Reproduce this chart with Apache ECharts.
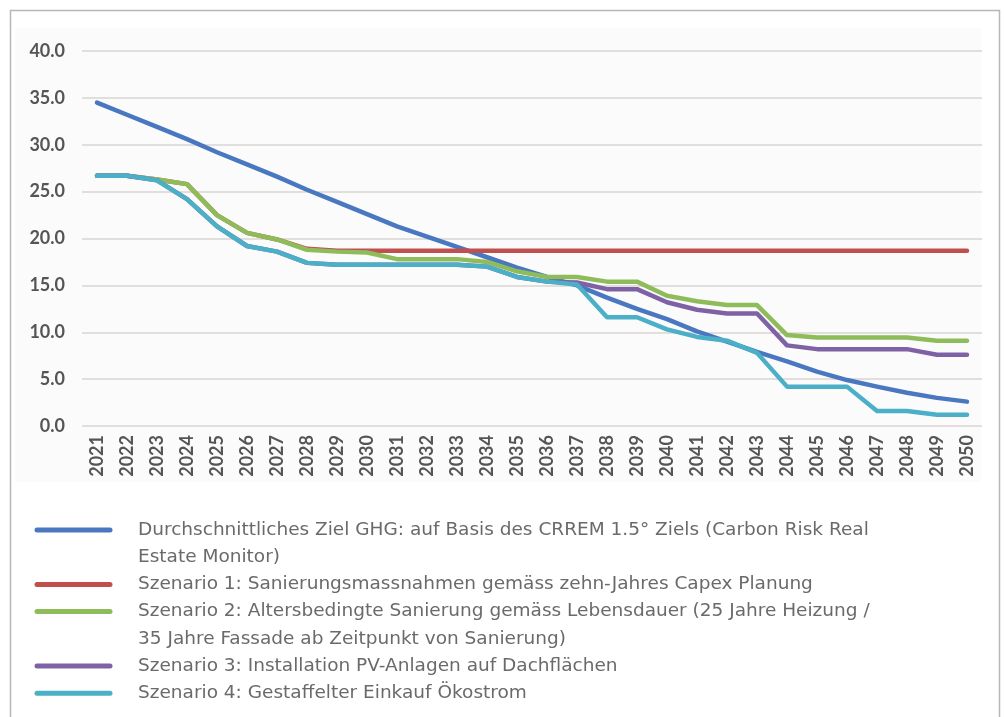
<!DOCTYPE html>
<html>
<head>
<meta charset="utf-8">
<script src="https://cdn.jsdelivr.net/npm/echarts@6/dist/echarts.min.js"></script>
<style>
  html, body { margin: 0; padding: 0; background: #fff; }
  #chart { width: 1004px; height: 717px; }
</style>
</head>
<body>
<div id="chart"></div>
<script>
  var years = ['2021', '2022', '2023', '2024', '2025', '2026', '2027', '2028', '2029', '2030',
    '2031', '2032', '2033', '2034', '2035', '2036', '2037', '2038', '2039', '2040',
    '2041', '2042', '2043', '2044', '2045', '2046', '2047', '2048', '2049', '2050'];

  // CRREM 1.5° Zielpfad
  var crremTarget = [34.5, 33.2, 31.9, 30.6, 29.2, 27.9, 26.6, 25.2, 23.9, 22.6,
    21.3, 20.2, 19.1, 18.0, 16.9, 15.9, 15.0, 13.7, 12.5, 11.4,
    10.1, 9.0, 7.9, 6.9, 5.8, 4.9, 4.2, 3.55, 3.0, 2.6];
  var szenario1 = [26.7, 26.7, 26.3, 25.8, 22.5, 20.6, 19.9, 18.9, 18.7, 18.7,
    18.7, 18.7, 18.7, 18.7, 18.7, 18.7, 18.7, 18.7, 18.7, 18.7,
    18.7, 18.7, 18.7, 18.7, 18.7, 18.7, 18.7, 18.7, 18.7, 18.7];
  var szenario2 = [26.7, 26.7, 26.3, 25.8, 22.5, 20.6, 19.9, 18.8, 18.6, 18.5,
    17.8, 17.8, 17.8, 17.5, 16.5, 15.9, 15.9, 15.4, 15.4, 13.9,
    13.3, 12.9, 12.9, 9.7, 9.45, 9.45, 9.45, 9.45, 9.1, 9.1];
  var szenario3 = [26.7, 26.7, 26.2, 24.2, 21.3, 19.2, 18.6, 17.4, 17.2, 17.2,
    17.2, 17.2, 17.2, 17.0, 15.9, 15.4, 15.3, 14.6, 14.6, 13.2,
    12.4, 12.0, 12.0, 8.6, 8.2, 8.2, 8.2, 8.2, 7.6, 7.6];
  var szenario4 = [26.7, 26.7, 26.2, 24.2, 21.3, 19.2, 18.6, 17.4, 17.2, 17.2,
    17.2, 17.2, 17.2, 17.0, 15.9, 15.4, 15.1, 11.6, 11.6, 10.3,
    9.5, 9.1, 7.8, 4.2, 4.2, 4.2, 1.6, 1.6, 1.2, 1.2];

  var yTicks = [0, 5, 10, 15, 20, 25, 30, 35, 40];

  var seriesNames = [
    'Durchschnittliches Ziel GHG: auf Basis des CRREM 1.5° Ziels (Carbon Risk Real Estate Monitor)',
    'Szenario 1: Sanierungsmassnahmen gemäss zehn-Jahres Capex Planung',
    'Szenario 2: Altersbedingte Sanierung gemäss Lebensdauer (25 Jahre Heizung / 35 Jahre Fassade ab Zeitpunkt von Sanierung)',
    'Szenario 3: Installation PV-Anlagen auf Dachflächen',
    'Szenario 4: Gestaffelter Einkauf Ökostrom'
  ];
  // legend text as printed, wrapped per line
  var legendLines = [
    ['Durchschnittliches Ziel GHG: auf Basis des CRREM 1.5° Ziels (Carbon Risk Real', 'Estate Monitor)'],
    ['Szenario 1: Sanierungsmassnahmen gemäss zehn-Jahres Capex Planung'],
    ['Szenario 2: Altersbedingte Sanierung gemäss Lebensdauer (25 Jahre Heizung /', '35 Jahre Fassade ab Zeitpunkt von Sanierung)'],
    ['Szenario 3: Installation PV-Anlagen auf Dachflächen'],
    ['Szenario 4: Gestaffelter Einkauf Ökostrom']
  ];
  var seriesData = [crremTarget, szenario1, szenario2, szenario3, szenario4];
  var colors = ['#4a78c0', '#c0504d', '#8fbc5a', '#7f62a5', '#4bafc8'];

  var axisFont = 'Lato, sans-serif';
  var legendFont = '18.5px "DejaVu Sans", sans-serif';

  function render() {
    var chart = echarts.init(document.getElementById('chart'));

    var series = seriesData.map(function (d, i) {
      return {
        name: seriesNames[i],
        type: 'line',
        data: d,
        symbol: 'none',
        smooth: false,
        lineStyle: { width: 4.5, color: colors[i], cap: 'round', join: 'round' },
        itemStyle: { color: colors[i] },
        z: 2 + i
      };
    });

    // legend drawn as graphic so the swatch sits on the first text line
    var legendGraphic = [];
    var lineNo = 0;
    legendLines.forEach(function (lines, i) {
      var y = 530 + lineNo * 27.2;
      legendGraphic.push({
        type: 'line',
        shape: { x1: 37, y1: y, x2: 110, y2: y },
        style: { stroke: colors[i], lineWidth: 5, lineCap: 'round' }
      });
      lines.forEach(function (txt, k) {
        legendGraphic.push({
          type: 'text',
          x: 138,
          y: y + k * 27.2,
          style: {
            text: txt,
            fill: '#6a6a6a',
            font: legendFont,
            verticalAlign: 'middle'
          }
        });
      });
      lineNo += lines.length;
    });

    chart.setOption({
      backgroundColor: '#ffffff',
      animation: false,
      grid: { left: 82, right: 22, top: 51, bottom: 291 },
      xAxis: {
        type: 'category',
        data: years,
        boundaryGap: true,
        axisLine: { show: false },
        axisTick: { show: false },
        axisLabel: {
          interval: 0,
          rotate: 90,
          margin: 9,
          color: '#555',
          fontSize: 18,
          fontWeight: 'bold',
          fontFamily: axisFont
        }
      },
      yAxis: {
        type: 'value',
        min: yTicks[0],
        max: yTicks[yTicks.length - 1],
        interval: 5,
        axisLine: { show: false },
        axisTick: { show: false },
        splitLine: { lineStyle: { color: '#d9d5d1', width: 1.5 } },
        axisLabel: {
          margin: 17,
          color: '#555',
          fontSize: 18,
          fontWeight: 'bold',
          fontFamily: axisFont,
          formatter: function (v) { return v.toFixed(1); }
        }
      },
      series: series,
      graphic: [
        {
          type: 'rect',
          z: -10,
          silent: true,
          shape: { x: 15, y: 28, width: 966, height: 454 },
          style: { fill: '#fbfbfb' }
        },
        {
          type: 'rect',
          z: 100,
          silent: true,
          shape: { x: 10.5, y: 10.5, width: 989, height: 720 },
          style: { fill: 'none', stroke: '#bbb6b2', lineWidth: 1.5 }
        }
      ].concat(legendGraphic)
    });

    window.addEventListener('resize', chart.resize);
  }

  // make sure the fonts are ready before the canvas draws text
  if (document.fonts && document.fonts.load) {
    Promise.all([
      document.fonts.load('bold 18px Lato'),
      document.fonts.load(legendFont)
    ]).then(render, render);
  } else {
    render();
  }
</script>
</body>
</html>
